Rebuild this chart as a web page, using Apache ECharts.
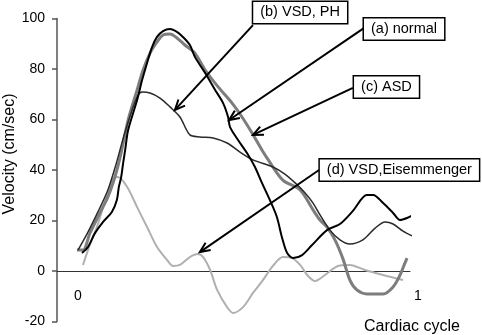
<!DOCTYPE html>
<html><head><meta charset="utf-8">
<script src="https://cdn.jsdelivr.net/npm/echarts@6/dist/echarts.min.js"></script>
<style>html,body{margin:0;padding:0;background:#fff}#c{width:482px;height:335px}</style>
</head><body><div id="c"></div>
<script>
// ---- data ----
const xTickValues = [0, 1];
const yMin = -20, yMax = 100, yStep = 20;
const xAxisName = 'Cardiac cycle';
const yAxisName = 'Velocity (cm/sec)';

// (a) normal
const normalData = [[0.012,7.1],[0.030,9.5],[0.051,15.0],[0.075,19.4],[0.102,23.4],[0.117,28.1],[0.123,33.3],[0.130,37.2],[0.136,42.8],[0.142,47.9],[0.151,55.8],[0.178,67.7],[0.193,75.6],[0.208,82.4],[0.223,88.7],[0.238,92.7],[0.256,95.0],[0.277,95.8],[0.298,94.7],[0.316,92.7],[0.337,89.5],[0.352,84.8],[0.383,78.4],[0.413,71.7],[0.437,66.5],[0.452,61.0],[0.458,57.0],[0.482,51.9],[0.509,46.7],[0.533,41.2],[0.554,34.9],[0.578,28.1],[0.599,21.4],[0.614,13.5],[0.630,7.1],[0.648,5.1],[0.675,6.3],[0.705,10.3],[0.750,16.2],[0.789,18.6],[0.828,23.8],[0.870,30.1],[0.889,30.1],[0.919,26.9],[0.949,23.0],[0.970,20.2],[0.991,21.0],[1.009,22.2]];
// (b) VSD, PH
const vsdPhData = [[0.0,8.3],[0.030,15.4],[0.060,23.4],[0.090,32.1],[0.114,42.0],[0.139,53.9],[0.163,63.8],[0.181,69.7],[0.193,70.9],[0.217,70.5],[0.247,68.5],[0.277,65.0],[0.307,61.0],[0.337,53.9],[0.367,53.1],[0.407,52.7],[0.449,50.7],[0.488,47.1],[0.527,44.0],[0.587,41.2],[0.623,38.4],[0.654,34.9],[0.684,30.9],[0.708,26.9],[0.729,22.2],[0.759,16.2],[0.789,12.3],[0.819,10.7],[0.858,12.3],[0.895,17.0],[0.925,19.4],[0.949,18.6],[0.979,15.8],[1.006,13.9]];
// (c) ASD
const asdData = [[-0.003,8.3],[0.015,8.3],[0.036,15.0],[0.066,23.0],[0.090,29.3],[0.111,37.2],[0.127,45.1],[0.151,59.8],[0.178,71.7],[0.196,79.6],[0.217,86.3],[0.238,90.7],[0.256,93.5],[0.277,93.9],[0.298,92.3],[0.322,89.5],[0.352,86.3],[0.383,79.6],[0.422,72.9],[0.464,66.5],[0.494,61.0],[0.524,54.7],[0.554,47.9],[0.569,44.8],[0.617,36.0],[0.669,32.1],[0.708,24.2],[0.729,20.2],[0.750,17.4],[0.774,12.3],[0.798,4.8],[0.819,-3.6],[0.840,-7.5],[0.870,-9.1],[0.919,-9.1],[0.949,-6.3],[0.970,-1.6],[0.985,3.2],[0.991,5.1]];
// (d) VSD, Eisenmenger
const eisData = [[0.015,2.4],[0.030,8.3],[0.045,13.5],[0.057,17.4],[0.075,25.0],[0.096,33.3],[0.108,36.8],[0.120,37.2],[0.148,33.3],[0.178,25.3],[0.208,17.4],[0.238,9.5],[0.268,4.4],[0.286,2.0],[0.307,2.4],[0.337,5.5],[0.361,6.7],[0.377,5.5],[0.398,0.4],[0.419,-7.5],[0.449,-14.3],[0.467,-16.6],[0.497,-14.3],[0.527,-8.7],[0.557,-3.6],[0.587,2.0],[0.617,5.5],[0.645,5.1],[0.669,2.4],[0.693,-2.0],[0.714,-4.0],[0.744,-1.6],[0.783,2.0],[0.819,2.4],[0.864,0.4],[0.919,-1.6],[0.979,-3.6]];

// annotations: label, box centre (data), arrow start (data), arrow tip (data)
const annLabels = ['(b) VSD, PH', '(a) normal', '(c) ASD', '(d) VSD,Eisemmenger'];
const annBox = [[0.669,102.4],[0.982,95.8],[0.929,72.9],[0.968,40.0]];
const annFrom = [[0.527,97.4],[0.861,96.2],[0.828,72.5],[0.726,40.0]];
const annTip = [[0.292,63.8],[0.455,59.8],[0.527,53.9],[0.367,7.5]];

// ---- chart ----
const FONT = '"Liberation Sans", Arial, sans-serif';
const GRID = {left:57, right:72, top:18.5, bottom:13.5};
const plotH = 335 - GRID.top - GRID.bottom;
const zeroOffset = -plotH * (0 - yMin) / (yMax - yMin);
const chart = echarts.init(document.getElementById('c'), null, {renderer:'canvas'});
chart.setOption({
  animation:false,
  backgroundColor:'#fff',
  title:{text:xAxisName,left:407,top:314,textAlign:'center',
    textStyle:{fontFamily:FONT,fontSize:16,fontWeight:'normal',color:'#000'}},
  grid:Object.assign({containLabel:false,outerBoundsMode:'none'},GRID),
  xAxis:{type:'value',min:-0.0633,max:1,offset:zeroOffset,
    axisLine:{onZero:false,lineStyle:{color:'#333',width:1}},
    axisTick:{show:false},splitLine:{show:false},
    axisLabel:{customValues:xTickValues,margin:18,fontFamily:FONT,fontSize:14,color:'#000',
      formatter:v=>v===1?'{r|1}':'{l|'+v+'}',
      rich:{l:{fontFamily:FONT,fontSize:14,color:'#000'},r:{fontFamily:FONT,fontSize:14,color:'#000',padding:[0,0,0,16]}}}},
  yAxis:{type:'value',min:yMin,max:yMax,interval:yStep,
    name:yAxisName,nameLocation:'middle',nameGap:39,nameMoveOverlap:false,
    nameTextStyle:{fontFamily:FONT,fontSize:16,color:'#000',padding:[0,0,0,32]},
    axisLine:{show:true,onZero:false,lineStyle:{color:'#555',width:1.5}},
    axisTick:{show:true,length:5,lineStyle:{color:'#555',width:1.5}},
    splitLine:{show:false},
    axisLabel:{margin:12,fontFamily:FONT,fontSize:14,color:'#000'}},
  series:[
    {name:'(d)',type:'line',data:eisData,symbol:'none',smooth:0.3,clip:false,
      lineStyle:{color:'#b0b0b0',width:2}},
    {name:'(c)',type:'line',data:asdData,symbol:'none',smooth:0.3,clip:false,
      lineStyle:{color:'#7d7d7d',width:3}},
    {name:'(b)',type:'line',data:vsdPhData,symbol:'none',smooth:0.3,clip:false,
      lineStyle:{color:'#2a2a2a',width:1.5}},
    {name:'(a)',type:'line',data:normalData,symbol:'none',smooth:0.3,clip:false,
      lineStyle:{color:'#000',width:2}}
  ]
});

const px = p => chart.convertToPixel({gridIndex:0}, p);
const elems = [];
annLabels.forEach((lab,i)=>{
  const a = px(annFrom[i]), t = px(annTip[i]), b = px(annBox[i]);
  const ang = Math.atan2(a[1]-t[1], a[0]-t[0]);
  const L = 11, w = 0.42;
  const p1 = [t[0]+L*Math.cos(ang+w), t[1]+L*Math.sin(ang+w)];
  const p2 = [t[0]+L*Math.cos(ang-w), t[1]+L*Math.sin(ang-w)];
  elems.push({type:'line',z:100,shape:{x1:a[0],y1:a[1],x2:t[0],y2:t[1]},style:{stroke:'#000',lineWidth:2}});
  elems.push({type:'polyline',z:100,shape:{points:[p1,t,p2]},style:{stroke:'#000',lineWidth:2,fill:null}});
  elems.push({type:'text',z:110,x:b[0],y:b[1],style:{text:lab,align:'center',verticalAlign:'middle',
    fontSize:14.5,fontFamily:FONT,fill:'#000',backgroundColor:'#fff',borderColor:'#000',borderWidth:1.5,padding:[3,7,3,7]}});
});
chart.setOption({graphic:{elements:elems}});
</script>
</body></html>
